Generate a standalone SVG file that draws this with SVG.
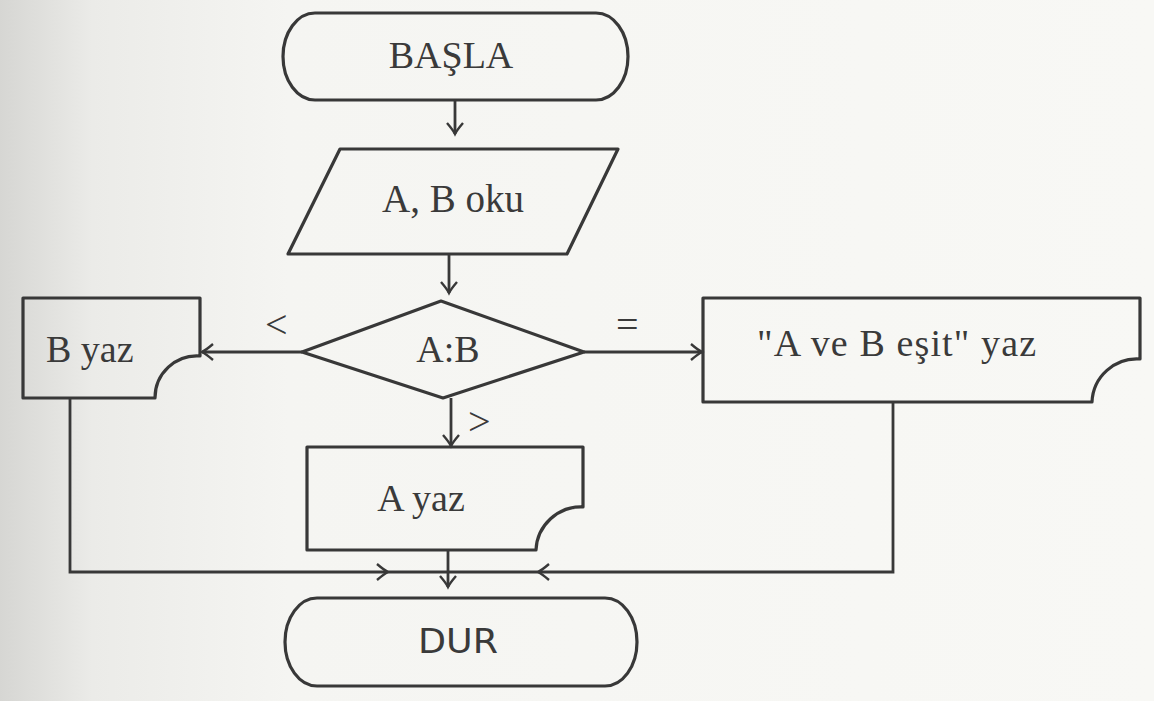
<svg xmlns="http://www.w3.org/2000/svg" width="1154" height="701" viewBox="0 0 1154 701">
<style>
.shape{fill:none;stroke:#383838;stroke-width:3.2;stroke-linejoin:round}
.line{fill:none;stroke:#383838;stroke-width:2.8}
.serif{font-family:"Liberation Serif","Times New Roman",serif;fill:#3a3a3a;font-size:38px}
.sans{font-family:"DejaVu Sans","Liberation Sans",sans-serif;fill:#3a3a3a;font-size:34px}
</style>
<defs>
<linearGradient id="paper" x1="0" y1="0" x2="1" y2="0">
<stop offset="0" stop-color="#d6d6d3"/>
<stop offset="0.08" stop-color="#ebebe8"/>
<stop offset="0.25" stop-color="#f5f5f2"/>
<stop offset="1" stop-color="#f8f8f5"/>
</linearGradient>
<marker id="arr" markerUnits="userSpaceOnUse" markerWidth="26" markerHeight="26" refX="13" refY="13" orient="auto" viewBox="0 0 26 26">
<path d="M2,5 Q9,11 13,13 Q9,15 2,21" fill="none" stroke="#383838" stroke-width="2.4"/>
</marker>
</defs>
<rect x="0" y="0" width="1154" height="701" fill="url(#paper)"/>

<g id="connectors">
<path class="line" d="M455,100 V134" marker-end="url(#arr)"/>
<path class="line" d="M449,254 V293" marker-end="url(#arr)"/>
<path class="line" d="M302,352 H202" marker-end="url(#arr)"/>
<path class="line" d="M584,352 H702" marker-end="url(#arr)"/>
<path class="line" d="M451,398 V446" marker-end="url(#arr)"/>
<path class="line" d="M70,398 V572 H388" marker-end="url(#arr)"/>
<path class="line" d="M893,402 V572 H538" marker-end="url(#arr)"/>
<path class="line" d="M388,572 H538"/>
<path class="line" d="M448,550 V587" marker-end="url(#arr)"/>
<text class="serif" x="265" y="338" style="font-size:40px">&lt;</text>
<text class="serif" x="616" y="338" style="font-size:40px">=</text>
<text class="serif" x="468" y="435" style="font-size:40px">&gt;</text>
</g>

<g id="start">
<rect class="shape" x="283" y="13" width="345" height="87" rx="32" ry="43.5"/>
<text class="serif" x="451" y="68" text-anchor="middle">BAŞLA</text>
</g>

<g id="input">
<path class="shape" d="M340,149 H618 L567,254 H288 Z"/>
<text class="serif" x="453" y="212" text-anchor="middle" style="font-size:39px">A, B oku</text>
</g>

<g id="decision">
<path class="shape" d="M441,301 L584,352 L443,398 L302,352 Z"/>
<text class="serif" x="448" y="362" text-anchor="middle">A:B</text>
</g>

<g id="outB">
<path class="shape" d="M23,298 H200 V356 A42,42 0 0 0 155,398 H23 Z"/>
<text class="serif" x="46" y="362">B yaz</text>
</g>

<g id="outEq">
<path class="shape" d="M703,298 H1140 V359 A45,45 0 0 0 1092,402 H703 Z"/>
<text class="serif" x="757" y="356" textLength="279" lengthAdjust="spacing">"A ve B eşit" yaz</text>
</g>

<g id="outA">
<path class="shape" d="M307,447 H583 V507 A45,45 0 0 0 536,550 H307 Z"/>
<text class="serif" x="421" y="511" text-anchor="middle">A yaz</text>
</g>

<g id="end">
<rect class="shape" x="285" y="598" width="352" height="88" rx="32" ry="44"/>
<text class="sans" x="458" y="653" text-anchor="middle" textLength="80" lengthAdjust="spacingAndGlyphs">DUR</text>
</g>
</svg>
